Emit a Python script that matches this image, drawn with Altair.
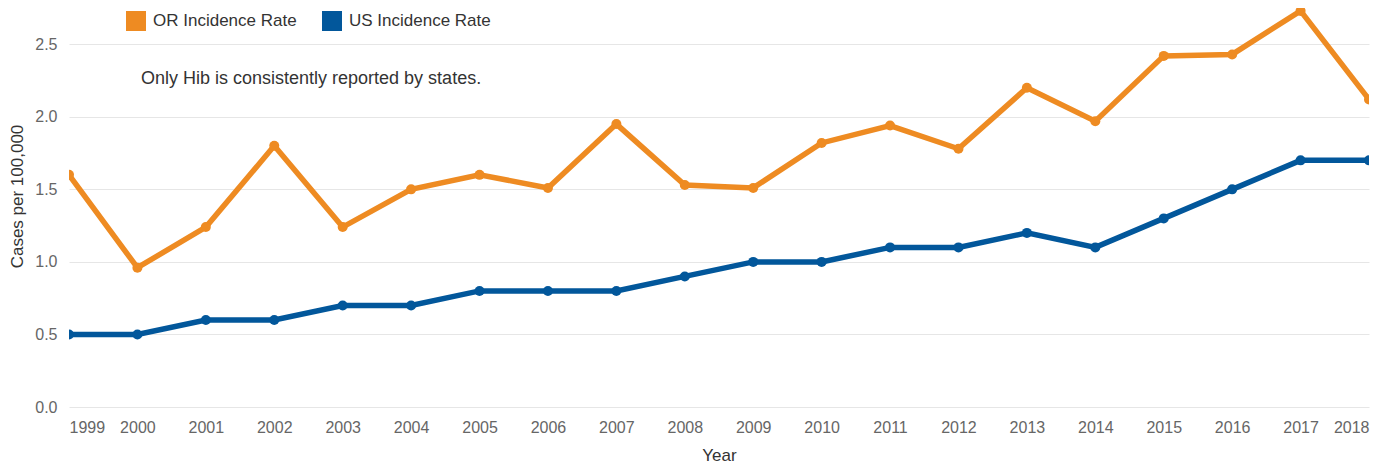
import altair as alt
import pandas as pd

years = list(range(1999, 2019))
or_rate = [1.60, 0.96, 1.24, 1.80, 1.24, 1.50, 1.60, 1.51, 1.95, 1.53,
           1.51, 1.82, 1.94, 1.78, 2.20, 1.97, 2.42, 2.43, 2.73, 2.12]
us_rate = [0.5, 0.5, 0.6, 0.6, 0.7, 0.7, 0.8, 0.8, 0.8, 0.9,
           1.0, 1.0, 1.1, 1.1, 1.2, 1.1, 1.3, 1.5, 1.7, 1.7]
series_names = ["OR Incidence Rate", "US Incidence Rate"]
series_colors = ["#EE8B22", "#02579B"]
y_ticks = [0, 0.5, 1.0, 1.5, 2.0, 2.5]
note = "Only Hib is consistently reported by states."

df = pd.concat([
    pd.DataFrame({"Year": years, "Rate": or_rate, "Series": series_names[0]}),
    pd.DataFrame({"Year": years, "Rate": us_rate, "Series": series_names[1]}),
])

FONT = "Liberation Sans"

lines = alt.Chart(df).mark_line(
    strokeWidth=5.5, clip=True,
    point=alt.OverlayMarkDef(size=100, filled=True, clip=True, opacity=1),
).encode(
    x=alt.X("Year:Q",
            scale=alt.Scale(domain=[1999, 2018], nice=False, zero=False),
            axis=alt.Axis(values=years, format="d", title="Year", grid=False,
                          ticks=False, domain=False, labelFlush=True,
                          labelPadding=12, labelFontSize=16, labelColor="#666666",
                          titleFontSize=17, titleColor="#333333",
                          titleFontWeight="normal", titlePadding=12,
                          labelFont=FONT, titleFont=FONT)),
    y=alt.Y("Rate:Q",
            scale=alt.Scale(domain=[0, 2.75], nice=False),
            axis=alt.Axis(values=y_ticks, format=".1f", title="Cases per 100,000",
                          grid=True, gridColor="#e6e6e6", ticks=False, domain=False,
                          labelPadding=12, labelFontSize=16, labelColor="#666666",
                          titleFontSize=17, titleColor="#333333",
                          titleFontWeight="normal", titlePadding=8, titleY=188,
                          labelFont=FONT, titleFont=FONT)),
    color=alt.Color("Series:N",
                    scale=alt.Scale(domain=series_names, range=series_colors),
                    legend=alt.Legend(title=None, orient="none", legendX=57, legendY=3,
                                      direction="horizontal", symbolType="square",
                                      symbolSize=400, symbolStrokeWidth=0,
                                      symbolOpacity=1,
                                      labelFontSize=17, labelColor="#333333",
                                      labelFont=FONT, labelOffset=7,
                                      columnPadding=25, padding=0)),
)

text = alt.Chart(pd.DataFrame({"t": [note]})).mark_text(
    align="left", baseline="middle", fontSize=18, color="#333333", font=FONT
).encode(x=alt.value(72), y=alt.value(71), text="t:N")

chart = alt.layer(lines, text).properties(
    width=1300, height=399,
    padding={"left": 61, "top": 0, "right": 5, "bottom": 60},
    autosize=alt.AutoSizeParams(type="none"),
).configure_view(stroke=None)

chart.save("out.html", embed_options={"renderer": "svg", "actions": False})
